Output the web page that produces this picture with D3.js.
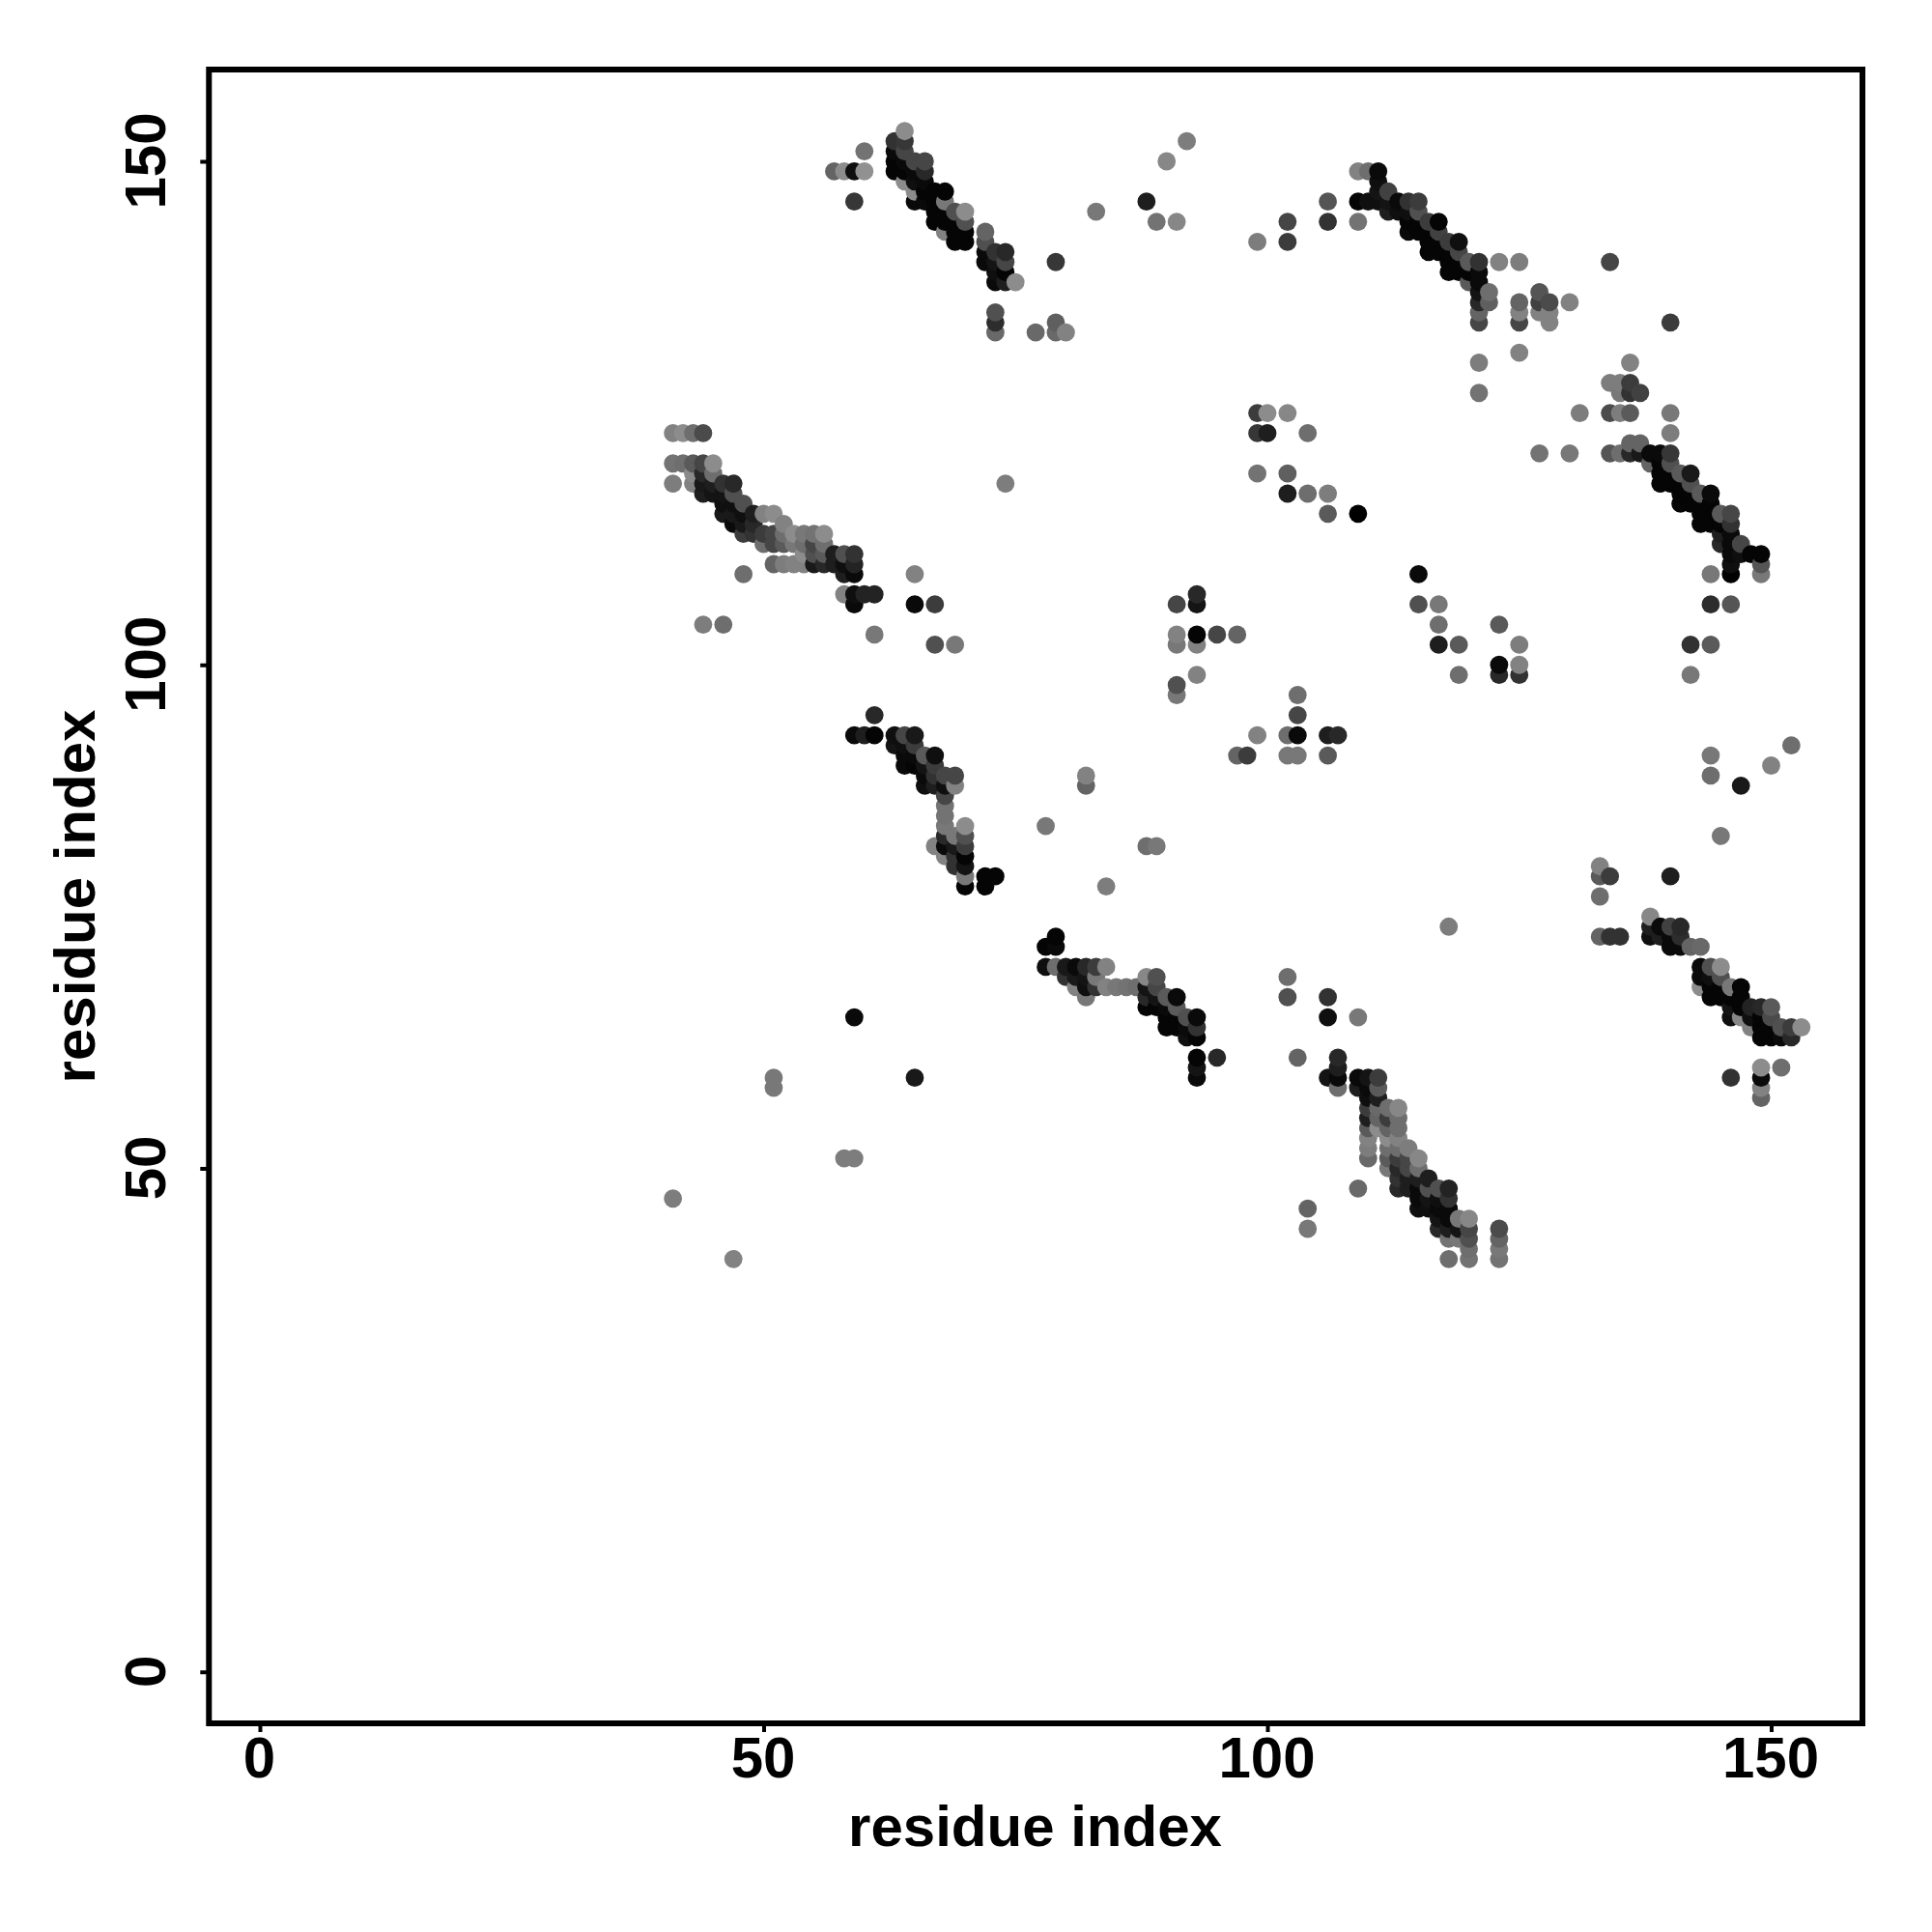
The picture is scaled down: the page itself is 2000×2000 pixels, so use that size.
<!DOCTYPE html>
<html><head><meta charset="utf-8">
<script src="https://cdnjs.cloudflare.com/ajax/libs/d3/7.8.5/d3.min.js"></script>
<style>html,body{margin:0;background:#fff}svg{display:block}text{font-family:"Liberation Sans",Arial,sans-serif;font-weight:700;fill:#000}</style>
</head><body><svg id="c" width="2000" height="2000"></svg>
<script>
const tickValues=[0,50,100,150];
const axisLabel="residue index";
// each contact: [residue i, residue j, grey level]
const bandA=[[41,123,130],[42,123,140],[43,123,110],[44,123,75],[41,120,115],[42,120,110],[43,120,90],[44,120,70],[43,119,138],[44,119,40],[45,119,110],[45,120,140],[41,118,125],[43,118,130],[44,118,25],[45,118,30],[46,118,50],[47,118,40],[44,117,30],[45,117,20],[46,117,20],[47,117,80],[46,116,15],[47,116,15],[48,116,80],[46,115,25],[47,115,25],[48,115,15],[49,115,30],[47,114,10],[48,114,25],[49,114,40],[50,115,130],[51,115,140],[48,113,60],[49,113,50],[50,113,60],[51,113,70],[52,114,130],[52,113,110],[53,113,140],[54,113,120],[55,113,115],[56,113,140],[50,112,110],[51,112,70],[52,112,90],[53,112,120],[54,112,110],[55,112,70],[56,112,110],[54,111,140],[55,111,80],[56,111,90],[57,111,30],[58,111,80],[59,111,50],[51,110,100],[52,110,125],[53,110,130],[54,110,130],[55,110,25],[56,110,40],[57,110,30],[58,110,15],[59,110,35],[58,109,30],[59,109,10],[58,107,130],[59,107,15],[60,107,35],[61,107,35],[59,106,10],[48,109,110],[65,109,130],[65,106,10],[67,106,60],[44,104,125],[46,104,110],[61,103,120],[67,102,80],[69,102,120]];
const bandB=[[57,149,100],[58,149,140],[59,149,15],[60,149,145],[60,151,115],[59,146,55],[63,152,50],[63,151,10],[63,150,5],[63,149,5],[64,153,140],[64,152,55],[64,151,70],[64,150,10],[64,149,5],[64,148,140],[65,150,70],[65,149,10],[65,148,15],[65,147,140],[65,146,10],[66,150,70],[66,149,40],[66,148,10],[66,147,5],[66,146,10],[67,147,5],[67,146,5],[67,145,5],[67,144,5],[68,147,5],[68,146,120],[68,145,5],[68,144,5],[68,143,130],[69,145,80],[69,144,5],[69,143,5],[69,142,5],[70,145,140],[70,144,80],[70,143,5],[70,142,5],[72,143,100],[72,142,80],[72,141,10],[72,140,10],[73,141,50],[73,140,20],[73,139,15],[73,138,10],[74,141,40],[74,140,70],[74,139,5],[74,138,30],[75,138,140],[79,140,55],[73,135,80],[73,134,45],[73,133,105],[77,133,105],[79,134,95],[79,133,105],[80,133,130],[83,145,120],[88,146,30],[89,144,115],[91,144,135],[90,150,135],[92,152,125]];
const bandC=[[99,142,125],[102,144,70],[102,142,60],[109,149,130],[110,149,110],[111,149,10],[111,148,15],[111,147,20],[112,147,65],[106,146,85],[106,144,50],[109,144,115],[109,146,5],[110,146,15],[111,146,15],[112,146,20],[113,146,10],[114,146,50],[115,146,60],[112,145,30],[113,145,15],[114,145,15],[115,145,80],[114,144,5],[115,144,5],[116,144,60],[117,144,5],[114,143,10],[115,143,5],[116,143,5],[117,143,65],[116,142,5],[117,142,5],[118,142,60],[119,142,15],[116,141,5],[117,141,5],[118,141,5],[119,141,70],[118,140,5],[119,140,5],[120,140,90],[121,140,50],[123,140,130],[125,140,125],[118,139,5],[119,139,5],[120,139,5],[121,139,10],[120,138,90],[121,138,10],[121,137,20],[122,137,110],[121,136,40],[122,136,95],[125,136,100],[127,136,65],[128,136,75],[130,136,130],[127,137,85],[121,135,100],[125,135,130],[127,135,130],[128,135,130],[121,134,70],[125,134,70],[128,134,130],[121,130,125],[125,131,130],[121,127,115],[134,140,70],[140,134,60]];
const bandD=[[136,130,130],[134,128,125],[135,128,125],[136,128,60],[135,127,120],[136,127,50],[137,127,65],[131,125,125],[134,125,75],[135,125,125],[136,125,90],[140,125,120],[140,123,125],[136,122,100],[137,122,100],[134,121,85],[135,121,110],[136,121,40],[137,121,25],[138,121,10],[139,121,10],[140,121,55],[127,121,115],[130,121,120],[138,120,100],[139,120,5],[140,120,80],[139,119,5],[140,119,5],[141,119,90],[142,119,25],[139,118,5],[140,118,5],[141,118,5],[142,118,80],[141,117,5],[142,117,5],[143,117,90],[144,117,10],[141,116,5],[142,116,5],[143,116,5],[144,116,5],[143,115,5],[144,115,5],[145,115,90],[146,115,70],[143,114,5],[144,114,5],[145,114,5],[146,114,50],[145,113,30],[146,113,10],[145,112,40],[146,112,10],[147,112,70],[146,111,10],[147,111,15],[148,111,5],[149,111,5],[146,110,15],[149,110,85],[144,109,120],[146,109,0],[149,109,120],[144,106,45],[146,106,85],[142,102,50],[144,102,90],[142,99,120]];
const bandE=[[61,95,40],[59,93,10],[60,93,30],[61,93,5],[63,93,15],[64,93,70],[65,93,25],[63,92,20],[64,92,15],[65,92,60],[64,91,10],[65,91,10],[66,91,90],[67,91,15],[64,90,10],[65,90,5],[66,90,20],[67,90,60],[66,89,10],[67,89,50],[68,89,70],[69,89,70],[66,88,15],[67,88,30],[68,88,15],[69,88,130],[68,87,70],[68,86,115],[68,85,115],[68,84,120],[69,83,120],[70,84,140],[70,83,80],[68,83,40],[67,82,130],[68,82,10],[69,82,25],[70,82,60],[68,81,130],[69,81,50],[70,81,5],[69,80,50],[70,80,20],[70,79,120],[70,78,5],[72,78,5],[72,79,5],[73,79,5]];
const bandF=[[79,73,5],[78,72,5],[79,72,10],[78,70,15],[79,70,110],[80,70,25],[81,70,10],[82,70,40],[83,70,60],[84,70,130],[80,69,50],[81,69,25],[82,69,20],[83,69,120],[81,68,130],[82,68,15],[83,68,50],[84,68,130],[85,68,120],[86,68,115],[87,68,110],[88,68,20],[82,67,120],[88,69,135],[89,69,80],[89,68,70],[88,67,40],[89,67,20],[90,67,90],[91,67,10],[88,66,5],[89,66,5],[90,66,10],[91,66,90],[92,65,80],[93,65,10],[90,65,5],[91,65,5],[90,64,5],[91,64,5],[92,64,10],[93,64,50],[92,63,15],[93,63,5],[93,61,5],[95,61,40],[93,60,20],[93,59,10]];
const bandG=[[107,61,40],[107,60,30],[106,59,20],[107,59,10],[107,58,110],[109,59,10],[109,58,30],[110,59,20],[110,58,10],[110,57,15],[110,56,60],[110,55,30],[110,54,90],[110,53,130],[110,52,125],[110,51,105],[111,59,60],[111,58,90],[111,57,30],[111,56,105],[111,55,100],[111,54,140],[112,56,110],[112,55,60],[112,54,100],[112,53,140],[112,52,110],[112,51,90],[112,50,120],[113,56,135],[113,55,110],[113,54,110],[113,53,130],[113,52,110],[113,51,60],[113,50,40],[113,49,50],[113,48,40],[114,52,125],[114,51,70],[114,50,70],[114,49,30],[114,48,30],[115,51,135],[115,50,110],[115,49,30],[115,48,10],[115,47,10],[115,46,15],[116,49,30],[116,48,80],[116,47,20],[116,46,15],[117,48,80],[117,47,15],[117,46,10],[117,45,20],[117,44,40],[118,48,35],[118,47,50],[118,46,10],[118,45,10],[118,44,30],[118,43,115],[119,45,120],[119,44,20],[119,43,120],[120,45,135],[120,44,70],[120,43,80],[120,42,110],[120,41,115],[118,41,110],[109,48,105],[123,44,75],[123,43,100],[123,42,120],[123,41,115]];
const bandH=[[133,80,130],[133,79,90],[134,79,60],[133,77,110],[140,79,30],[133,73,100],[134,73,50],[135,73,50],[138,75,135],[138,74,30],[139,74,10],[140,74,65],[141,74,40],[138,73,15],[139,73,30],[140,73,10],[141,73,45],[140,72,10],[141,72,10],[142,72,100],[143,72,105],[143,70,10],[144,70,80],[145,70,140],[143,69,10],[144,69,15],[145,69,80],[143,68,140],[144,68,5],[145,68,5],[146,68,120],[147,68,5],[144,67,5],[145,67,5],[146,67,5],[147,67,5],[146,66,20],[147,66,5],[148,66,35],[149,66,40],[150,66,90],[146,65,15],[147,65,135],[148,65,15],[149,65,5],[150,65,75],[148,64,130],[149,64,5],[150,64,5],[151,64,80],[152,64,60],[153,64,140],[149,63,5],[150,63,5],[151,63,10],[152,63,40],[149,60,140],[151,60,110],[146,59,50],[149,59,10],[149,58,130],[149,57,100]];
const scatterA=[[99,125,60],[100,125,140],[102,125,135],[99,123,55],[100,123,30],[104,123,110],[99,119,115],[102,119,95],[102,117,30],[104,117,110],[106,117,125],[106,115,90],[109,115,0],[74,118,125],[115,109,10],[115,106,80],[117,106,120],[117,104,110],[117,102,30],[119,102,90],[119,99,110],[123,104,90],[125,102,125],[123,100,10],[125,100,130],[123,99,40],[125,99,50],[91,106,70],[93,107,40],[93,106,20],[91,103,130],[91,102,120],[93,103,5],[93,102,130],[95,103,70],[97,103,100],[93,99,130],[91,98,80],[91,97,120],[103,97,110],[103,95,70],[99,93,130],[102,93,110],[103,93,10],[106,93,30],[107,93,40],[97,91,100],[98,91,60],[102,91,120],[103,91,120],[106,91,90]];
const scatterB=[[82,89,130],[82,88,100],[78,84,120],[88,82,110],[89,82,120],[84,78,125],[144,91,120],[144,89,110],[147,88,25],[150,90,130],[152,92,110],[145,83,120],[118,74,125],[102,69,110],[102,67,80],[106,67,50],[106,65,15],[109,65,120],[103,61,100],[59,65,10],[65,59,25],[51,59,120],[51,58,120],[58,51,125],[59,51,125],[41,47,125],[47,41,130],[104,46,100],[104,44,120]];

const contacts=[...bandA,...bandB,...bandC,...bandD,...bandE,...bandF,...bandG,...bandH,...scatterA,...scatterB]
  .sort((a,b)=>d3.ascending(a[0],b[0])||d3.ascending(a[1],b[1]));

const x=d3.scaleLinear().domain([0,150]).range([269,1833.5]);
const y=d3.scaleLinear().domain([0,150]).range([1730.7,167]);
const svg=d3.select("#c");
const plot={l:216.3,r:1928,t:72,b:1784};

svg.append("g").selectAll("circle").data(contacts).join("circle")
  .attr("cx",d=>x(d[0])).attr("cy",d=>y(d[1])).attr("r",9.4)
  .attr("fill",d=>d3.rgb(d[2],d[2],d[2]).formatHex());

svg.append("rect").attr("x",plot.l).attr("y",plot.t).attr("width",plot.r-plot.l).attr("height",plot.b-plot.t)
  .attr("fill","none").attr("stroke","#000").attr("stroke-width",6);

const gx=svg.append("g").attr("transform",`translate(0,${plot.b})`)
  .call(d3.axisBottom(x).tickValues(tickValues).tickSize(9).tickPadding(0));
const gy=svg.append("g").attr("transform",`translate(${plot.l},0)`)
  .call(d3.axisLeft(y).tickValues(tickValues).tickSize(9).tickPadding(0));
[gx,gy].forEach(g=>{g.select(".domain").remove();g.selectAll(".tick line").attr("stroke","#000").attr("stroke-width",4);});
gx.selectAll("text").attr("y",0).attr("dy",0).attr("transform",`translate(-1,56)`).attr("text-anchor","middle").style("font-size","60px");
gy.selectAll("text").attr("x",0).attr("dy",0).attr("text-anchor","middle").attr("transform",`translate(${171-plot.l},-1) rotate(-90)`).style("font-size","60px");

svg.append("text").attr("x",1071.5).attr("y",1911).attr("text-anchor","middle").style("font-size","60px").text(axisLabel);
svg.append("text").attr("transform","translate(98,928) rotate(-90)").attr("text-anchor","middle").style("font-size","60px").text(axisLabel);
</script></body></html>
